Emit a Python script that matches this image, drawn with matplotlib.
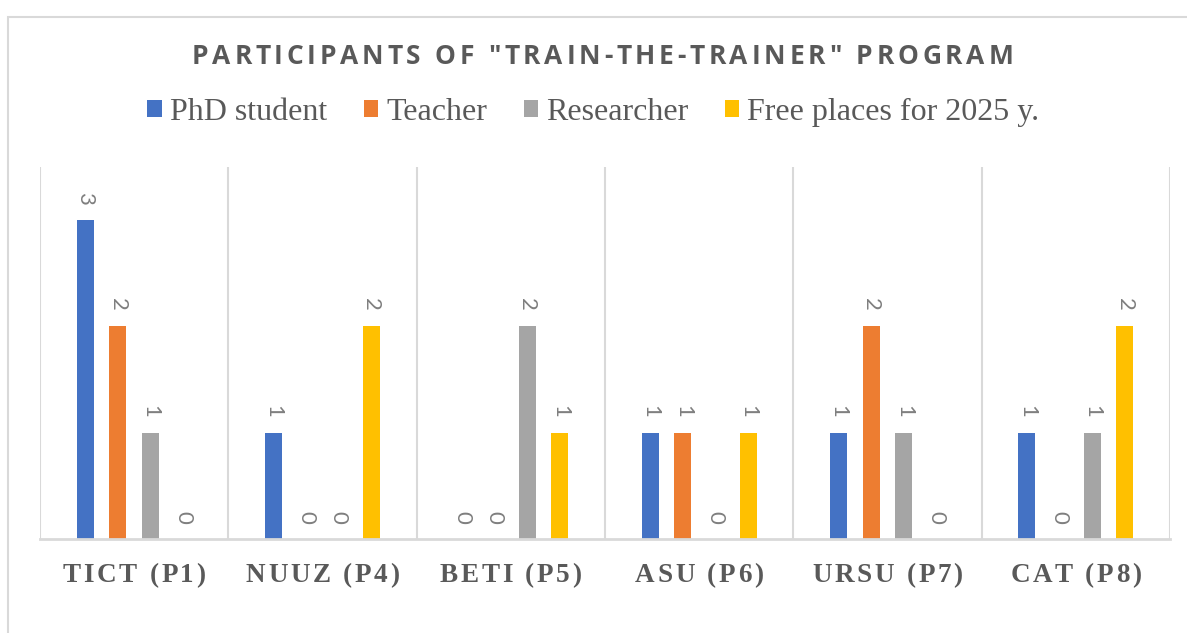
import numpy as np
import matplotlib
matplotlib.use("Agg")
import matplotlib.pyplot as plt
from matplotlib.patches import Rectangle
from matplotlib.transforms import IdentityTransform

categories = ["TICT (P1)", "NUUZ (P4)", "BETI (P5)", "ASU (P6)", "URSU (P7)", "CAT (P8)"]
series_names = ["PhD student", "Teacher", "Researcher", "Free places for 2025 y."]
phd = [3, 1, 0, 1, 1, 1]
teacher = [2, 0, 0, 1, 2, 0]
researcher = [1, 0, 2, 0, 1, 1]
free_places = [0, 2, 1, 1, 0, 2]
colors = ["#4472C4", "#ED7D31", "#A5A5A5", "#FFC000"]
title = 'PARTICIPANTS OF "TRAIN-THE-TRAINER" PROGRAM'

series = [phd, teacher, researcher, free_places]

W, H = 1187, 633
fig = plt.figure(figsize=(W / 100, H / 100), dpi=100)
ax = fig.add_axes([40 / W, 1 - 539 / H, 1130 / W, 372 / H])
renderer = fig.canvas.get_renderer()


def char_width(ch, **kw):
    # advance width of one character, measured between two 'x's
    t1 = fig.text(0, 0, "x" + ch + "x", **kw)
    t2 = fig.text(0, 0, "xx", **kw)
    w = t1.get_window_extent(renderer).width - t2.get_window_extent(renderer).width
    t1.remove()
    t2.remove()
    return w


def spaced_text(xc, y, s, spacing, **kw):
    # text with letter spacing, centred at pixel xc, y (from top)
    widths = [char_width(ch, **kw) for ch in s]
    total = sum(widths) + spacing * (len(s) - 1)
    x = xc - total / 2
    for ch, w in zip(s, widths):
        fig.text(x, H - y, ch, transform=IdentityTransform(),
                 ha="left", va="center", **kw)
        x += w + spacing


# chart border
fig.patches.append(Rectangle((8 / W, -0.05), 1.2, 1 - 17 / H + 0.05,
                             transform=fig.transFigure, fill=False,
                             edgecolor="#d9d9d9", linewidth=1.5))

x = np.arange(len(categories))
step = 0.173
width = 0.09
offsets = [-1.5 * step, -0.5 * step, 0.5 * step, 1.5 * step]
for vals, name, col, off in zip(series, series_names, colors, offsets):
    bars = ax.bar(x + off, vals, width=width, color=col, label=name, zorder=3)
    for b, v in zip(bars, vals):
        ax.annotate(str(v), (b.get_x() + b.get_width() / 2, v),
                    xytext=(0, 11), textcoords="offset points",
                    rotation=270, ha="center", va="bottom",
                    fontsize=16, color="#7f7f7f", family="Lato")

ax.set_xlim(-0.5, len(categories) - 0.5)
ax.set_ylim(0, 3.5)
ax.set_yticks([])
ax.set_xticks([])
for xb in np.arange(-0.5, len(categories), 1.0):
    ax.axvline(xb, color="#d9d9d9", linewidth=1.5, zorder=1)
for s in ["top", "right", "left"]:
    ax.spines[s].set_visible(False)
ax.spines["bottom"].set_color("#d9d9d9")
ax.spines["bottom"].set_linewidth(2)
ax.spines["bottom"].set_zorder(4)

# category labels
for i, cat in enumerate(categories):
    xc = ax.transData.transform((i, 0))[0]
    spaced_text(xc, 576, cat, 2.7, family="Liberation Serif",
                fontweight="bold", fontsize=19.5, color="#595959")

spaced_text(W / 2 + 9, 57, title, 3.8, family="Open Sans",
            fontweight="bold", fontsize=19, color="#595959")

fig.legend(loc="center", bbox_to_anchor=(0.5, 1 - 112 / H), ncol=4,
           frameon=False, prop={"family": "Liberation Serif", "size": 23},
           labelcolor="#595959", handlelength=0.45, handleheight=0.45,
           handletextpad=0.25, columnspacing=1.15)

fig.savefig("out.png", dpi=100)
